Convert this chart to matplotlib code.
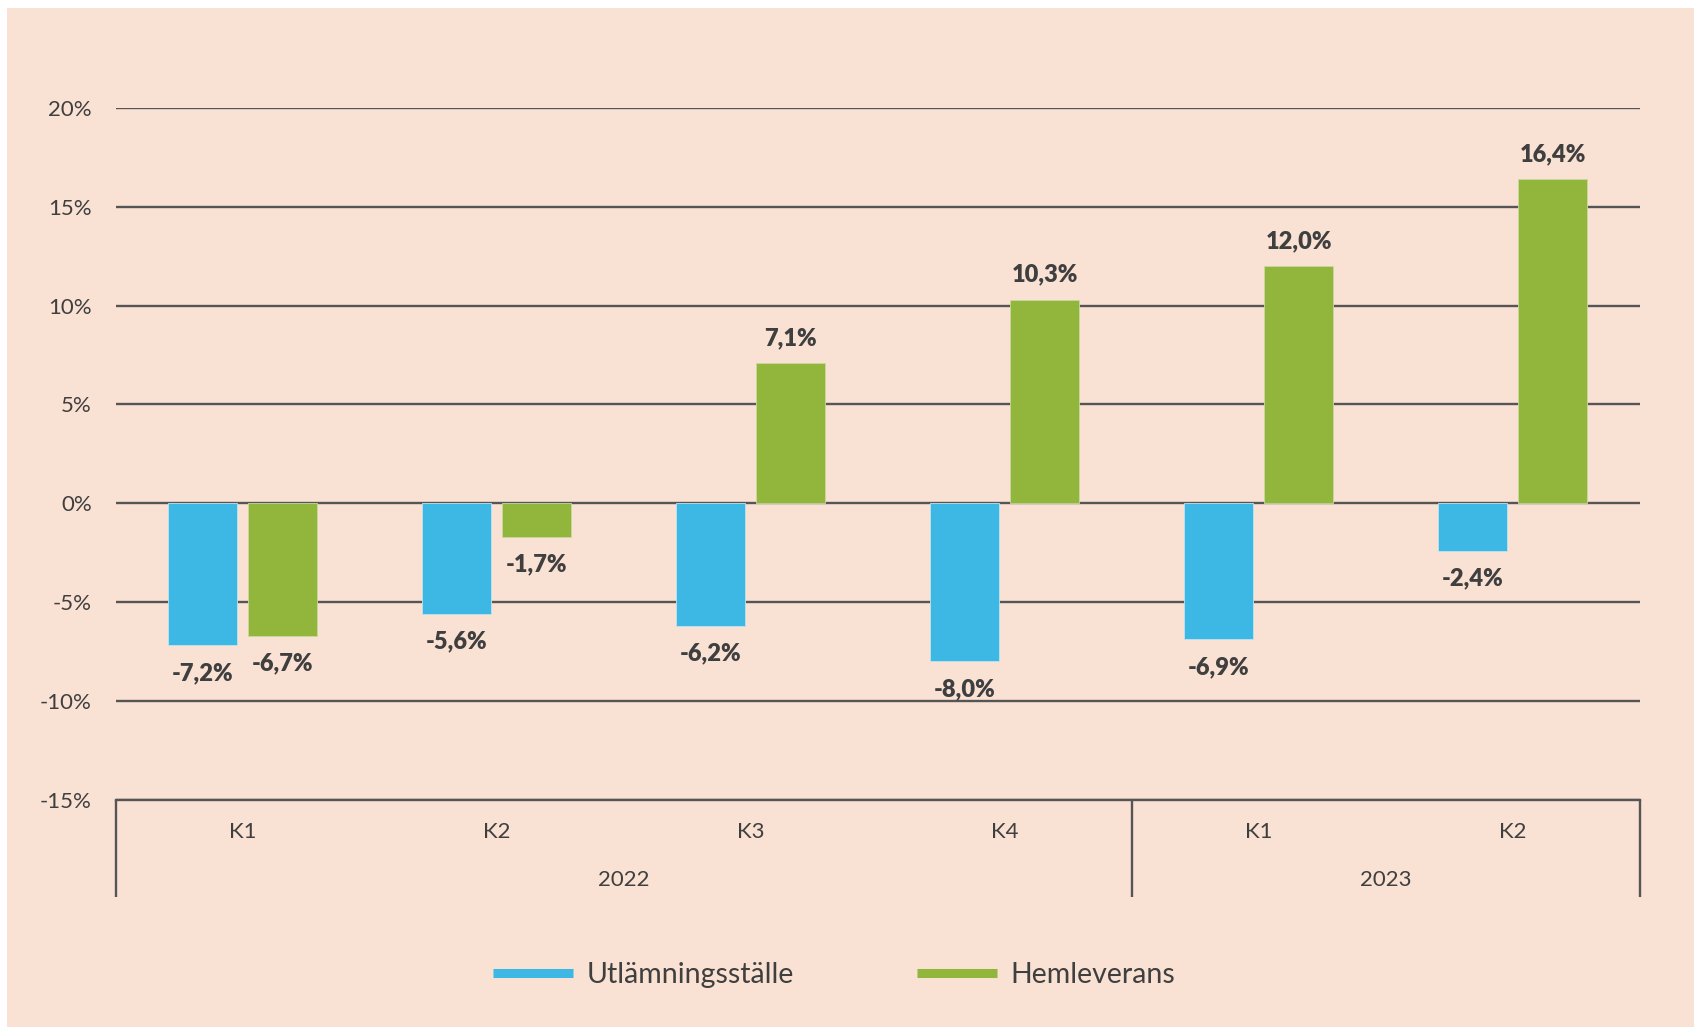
import matplotlib.pyplot as plt
from matplotlib.patches import Rectangle
from matplotlib.lines import Line2D
import numpy as np

# Data
quarters = ["K1", "K2", "K3", "K4", "K1", "K2"]
years = ["2022", "2023"]
year_spans = [(0, 4), (4, 6)]  # category index ranges per year
utlamning = [-7.2, -5.6, -6.2, -8.0, -6.9, -2.4]
hemleverans = [-6.7, -1.7, 7.1, 10.3, 12.0, 16.4]
yticks = [-15, -10, -5, 0, 5, 10, 15, 20]

BLUE = "#3DB7E4"
GREEN = "#92B63C"
TXT = "#3F3F3F"
GRID = "#555555"
BG = "#F9E1D3"

plt.rcParams["font.family"] = ["Lato", "DejaVu Sans"]

fig = plt.figure(figsize=(16.94, 10.27), dpi=100, facecolor="white")
# pink panel with thin white border top/left
fig.patches.append(Rectangle((7 / 1694, 0), 1 - 7 / 1694, 1 - 8 / 1027,
                             transform=fig.transFigure, facecolor=BG,
                             edgecolor="none", zorder=-10))

ax = fig.add_axes([0.0682, 0.2215, 0.8998, 0.6733])
ax.set_facecolor("none")

x = np.arange(len(quarters)) + 0.5
w = 0.272
off = 0.158
b1 = ax.bar(x - off, utlamning, w, color=BLUE, edgecolor="#BFE3EF", linewidth=0.6, zorder=3)
b2 = ax.bar(x + off, hemleverans, w, color=GREEN, edgecolor="#C9D9A0", linewidth=0.6, zorder=3)

def fmt(v):
    return f"{v:.1f}%".replace(".", ",")

for bars, vals in [(b1, utlamning), (b2, hemleverans)]:
    for rect, v in zip(bars, vals):
        cx = rect.get_x() + rect.get_width() / 2
        dy = 25 if v >= 0 else -28
        ax.annotate(fmt(v), (cx, v), xytext=(0, dy), textcoords="offset pixels",
                    ha="center", va="center", fontsize=17, fontweight="heavy",
                    color=TXT, zorder=4)

ax.set_xlim(0, len(quarters))
ax.set_ylim(-15, 20)
ax.set_yticks(yticks)
ax.set_yticklabels([f"{t}%" for t in yticks])
ax.tick_params(axis="y", length=0, pad=17, labelsize=16, labelcolor=TXT)
ax.set_xticks([])
ax.yaxis.grid(True, color=GRID, linewidth=1.7)
ax.set_axisbelow(True)
for s in ["left", "right", "top"]:
    ax.spines[s].set_visible(False)
ax.spines["bottom"].set_color(GRID)
ax.spines["bottom"].set_linewidth(1.7)

# category axis: quarter labels, year labels, separators
trans = ax.get_xaxis_transform()
for xi, q in zip(x, quarters):
    ax.text(xi, -0.047, q, transform=trans, ha="center", va="center",
            fontsize=16, color=TXT)
for yr, (a, b) in zip(years, year_spans):
    ax.text((a + b) / 2, -0.117, yr, transform=trans, ha="center", va="center",
            fontsize=16, color=TXT)
seps = sorted(set([s for span in year_spans for s in span]))
for sx in seps:
    ax.plot([sx, sx], [0, -0.141], transform=trans, color=GRID, lw=1.7,
            clip_on=False, solid_capstyle="butt")

handles = [Line2D([], [], color=BLUE, lw=6.5, solid_capstyle="butt"),
           Line2D([], [], color=GREEN, lw=6.5, solid_capstyle="butt")]
leg = fig.legend(handles, ["Utlämningsställe", "Hemleverans"], loc="center",
                 bbox_to_anchor=(0.4925, 1 - 975 / 1027), ncol=2, frameon=False,
                 fontsize=20.5, handlelength=2.8, handletextpad=0.5,
                 columnspacing=4.3)
for t in leg.get_texts():
    t.set_color(TXT)

fig.savefig("out.png", dpi=100, facecolor=fig.get_facecolor())
